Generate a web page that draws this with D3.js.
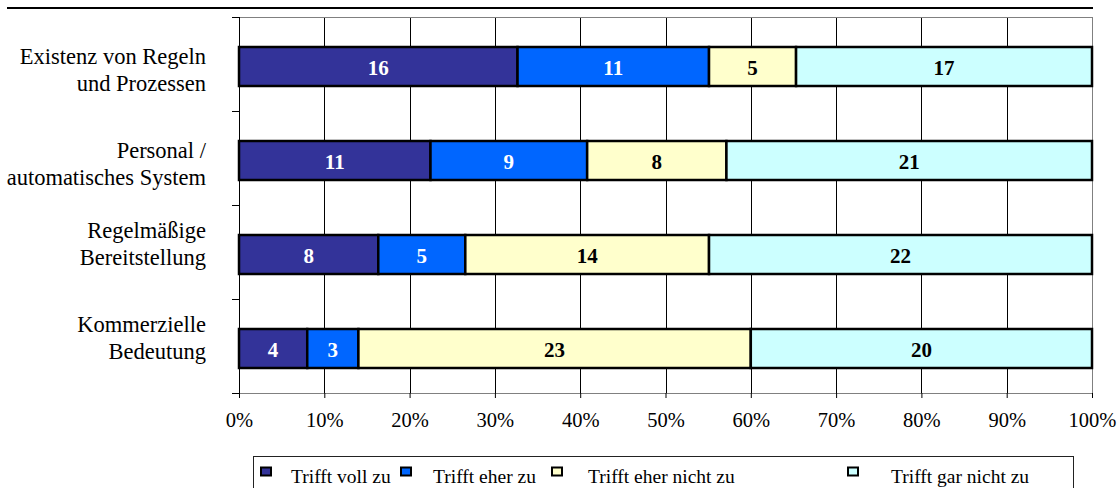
<html>
<head>
	<meta charset="utf-8">
	<title>Stacked bars</title>
	<script src="https://d3js.org/d3.v7.min.js"></script>
	<style>
		body { margin: 0; background: #fff; }
		svg { display: block; }
		svg text { font-family: "Liberation Serif", "Times New Roman", serif; }
	</style>
</head>
<body>
<svg width="1118" height="488" font-family="Liberation Serif, Times New Roman, serif"></svg>
<script>

	// categories (each label is wrapped over two lines)
	const categories = [
		["Existenz von Regeln", "und Prozessen"],
		["Personal /", "automatisches System"],
		["Regelmäßige", "Bereitstellung"],
		["Kommerzielle", "Bedeutung"]
	];
	const seriesNames = ["Trifft voll zu", "Trifft eher zu", "Trifft eher nicht zu", "Trifft gar nicht zu"];
	const vollZu    = [16, 11, 8, 4];
	const eherZu    = [11, 9, 5, 3];
	const eherNicht = [5, 8, 14, 23];
	const garNicht  = [17, 21, 22, 20];
	const xTickValues = [0, 0.1, 0.2, 0.3, 0.4, 0.5, 0.6, 0.7, 0.8, 0.9, 1];

	const colors = ["#333399", "#0066ff", "#ffffcc", "#ccffff"];
	const labelColors = ["#fff", "#fff", "#000", "#000"];

	const rows = categories.map((c, i) => ({
		key: i,
		s0: vollZu[i], s1: eherZu[i], s2: eherNicht[i], s3: garNicht[i]
	}));

	const keys = ["s0", "s1", "s2", "s3"];
	const stacked = d3.stack().keys(keys).offset(d3.stackOffsetExpand)(rows);

	const svg = d3.select("svg");
	const pLeft = 239, pRight = 1092, pTop = 17, pBottom = 393;

	const x = d3.scaleLinear().domain([0, 1]).range([pLeft, pRight]);
	const y = d3.scaleBand().domain(d3.range(categories.length)).range([pTop, pBottom]);
	const barH = 39;
	const barY = i => y(i) + y.bandwidth() / 2 - 17;

	// decorative rule above chart
	svg.append("line")
		.attr("x1", 7).attr("x2", 1093)
		.attr("y1", 8).attr("y2", 8)
		.attr("stroke", "#000").attr("stroke-width", 2);

	// grid lines
	svg.append("g").selectAll("line")
		.data(xTickValues.slice(1, -1))
		.enter().append("line")
			.attr("x1", d => Math.round(x(d)) + 0.5)
			.attr("x2", d => Math.round(x(d)) + 0.5)
			.attr("y1", pTop).attr("y2", pBottom)
			.attr("stroke", "#000")
			.attr("shape-rendering", "crispEdges");

	// plot frame (top, right, bottom)
	svg.append("path")
		.attr("d", `M${pLeft},${pTop + 0.5}H${pRight + 0.5}V${pBottom + 0.5}H${pLeft}`)
		.attr("fill", "none")
		.attr("stroke", "#808080")
		.attr("shape-rendering", "crispEdges");

	// bars
	const layer = svg.append("g").selectAll("g")
		.data(stacked)
		.enter().append("g")
			.attr("fill", (d, i) => colors[i]);

	layer.selectAll("rect")
		.data(d => d)
		.enter().append("rect")
			.attr("x", d => x(d[0]))
			.attr("y", (d, i) => barY(i))
			.attr("width", d => x(d[1]) - x(d[0]))
			.attr("height", barH)
			.attr("stroke", "#000")
			.attr("stroke-width", 2.5);

	// value labels
	stacked.forEach((s, si) => {
		svg.append("g").selectAll("text")
			.data(s)
			.enter().append("text")
				.attr("x", d => (x(d[0]) + x(d[1])) / 2)
				.attr("y", (d, i) => barY(i) + barH / 2 + 8)
				.attr("text-anchor", "middle")
				.attr("font-size", "21px")
				.attr("font-weight", "bold")
				.attr("fill", labelColors[si])
				.text(d => d.data[s.key]);
	});

	// y axis (left) with ticks at category boundaries
	svg.append("line")
		.attr("x1", pLeft + 0.5).attr("x2", pLeft + 0.5)
		.attr("y1", pTop).attr("y2", pBottom + 5)
		.attr("stroke", "#000").attr("shape-rendering", "crispEdges");
	svg.append("g").selectAll("line")
		.data(d3.range(categories.length + 1))
		.enter().append("line")
			.attr("x1", pLeft - 7).attr("x2", pLeft)
			.attr("y1", d => Math.round(pTop + d * y.step()) + 0.5)
			.attr("y2", d => Math.round(pTop + d * y.step()) + 0.5)
			.attr("stroke", "#000").attr("shape-rendering", "crispEdges");

	// category labels
	const catG = svg.append("g").selectAll("text")
		.data(categories)
		.enter().append("text")
			.attr("text-anchor", "end")
			.attr("font-size", "22.5px")
			.attr("fill", "#000");
	catG.each(function (lines, i) {
		const base = y(i) + y.bandwidth() / 2 + (i < 2 ? 0 : -14);
		d3.select(this).selectAll("tspan")
			.data(lines)
			.enter().append("tspan")
				.attr("x", 206)
				.attr("y", (l, j) => base + j * 27)
				.text(l => l);
	});

	// x axis
	const xAxis = svg.append("g")
		.attr("transform", `translate(0,${pBottom})`)
		.call(d3.axisBottom(x).tickValues(xTickValues).tickFormat(d3.format(".0%")).tickSize(5).tickPadding(14));
	xAxis.select(".domain").remove();
	xAxis.selectAll(".tick line").attr("stroke", "#000");
	xAxis.selectAll(".tick text")
		.attr("font-family", "Liberation Serif, Times New Roman, serif")
		.attr("font-size", "20.5px")
		.attr("fill", "#000");

	// legend
	const legend = svg.append("g");
	legend.append("rect")
		.attr("x", 253.5).attr("y", 456.5)
		.attr("width", 820).attr("height", 60)
		.attr("fill", "#fff")
		.attr("stroke", "#222");
	const markerX = [261, 401, 552, 848];
	const textX = [291, 433, 588, 891];
	seriesNames.forEach((name, i) => {
		legend.append("rect")
			.attr("x", markerX[i]).attr("y", 467.5)
			.attr("width", 10).attr("height", 8)
			.attr("fill", colors[i])
			.attr("stroke", "#000").attr("stroke-width", 2);
		legend.append("text")
			.attr("x", textX[i]).attr("y", 483)
			.attr("font-size", "19.5px")
			.attr("fill", "#000")
			.text(name);
	});

</script>
</body>
</html>
